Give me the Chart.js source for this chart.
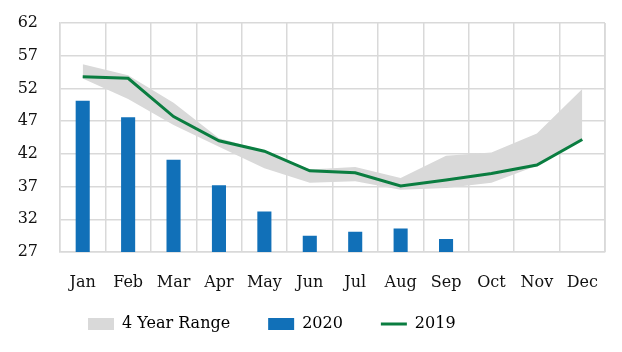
<!DOCTYPE html>
<html>
<head>
<meta charset="utf-8">
<script src="https://cdn.jsdelivr.net/npm/chart.js@4"></script>
<style>
html,body{margin:0;padding:0;background:#fff;}
#wrap{width:622px;height:352px;position:relative;}
</style>
</head>
<body>
<div id="wrap"><canvas id="c" width="622" height="352"></canvas></div>
<script>
const months = ['Jan','Feb','Mar','Apr','May','Jun','Jul','Aug','Sep','Oct','Nov','Dec'];
const rangeHigh = [55.7, 54.0, 49.8, 44.4, 42.5, 39.6, 40.0, 38.3, 41.7, 42.2, 45.1, 51.9];
const rangeLow  = [53.5, 50.4, 46.4, 43.1, 39.8, 37.6, 37.8, 36.5, 36.8, 37.6, 40.2, 44.2];
const values2020 = [50.1, 47.6, 41.1, 37.2, 33.2, 29.5, 30.1, 30.6, 29.0, null, null, null];
const values2019 = [53.8, 53.55, 47.7, 44.0, 42.4, 39.4, 39.1, 37.1, 38.0, 39.0, 40.3, 44.2];
const yTicks = [27, 32, 37, 42, 47, 52, 57, 62];

const FONT = "'DejaVu Serif', serif";
const TEXT = '#111';
const GRAY = '#D9D9D9', BLUE = '#1170B8', GREEN = '#0A7D40';

new Chart(document.getElementById('c'), {
  type: 'bar',
  data: {
    labels: months,
    datasets: [
      { type: 'line', label: '4 Year Range', data: rangeHigh, borderWidth: 0, pointRadius: 0,
        backgroundColor: GRAY, borderColor: GRAY, fill: '+1', order: 3, tension: 0 },
      { type: 'line', label: '_low', data: rangeLow, borderWidth: 0, pointRadius: 0,
        backgroundColor: GRAY, borderColor: GRAY, fill: false, order: 3, tension: 0 },
      { type: 'bar', label: '2020', data: values2020, backgroundColor: BLUE,
        barPercentage: 0.31, categoryPercentage: 1, order: 2 },
      { type: 'line', label: '2019', data: values2019, borderColor: GREEN, backgroundColor: GREEN,
        borderWidth: 3, pointRadius: 0, fill: false, order: 1, tension: 0 }
    ]
  },
  options: {
    responsive: false,
    animation: false,
    layout: { padding: { left: 16, right: 17, top: 23, bottom: 2 } },
    plugins: {
      tooltip: { enabled: false },
      legend: {
        position: 'bottom',
        align: 'start',
        maxHeight: 58,
        labels: {
          font: { family: FONT, size: 16 },
          color: TEXT,
          usePointStyle: true,
          pointStyleWidth: 26,
          boxHeight: 12,
          padding: 38,
          generateLabels: (chart) => {
            const ds = chart.data.datasets;
            return [
              { text: ds[0].label, fillStyle: GRAY, strokeStyle: GRAY, lineWidth: 0, pointStyle: 'rect', datasetIndex: 0, hidden: false },
              { text: ds[2].label, fillStyle: BLUE, strokeStyle: BLUE, lineWidth: 0, pointStyle: 'rect', datasetIndex: 2, hidden: false },
              { text: ds[3].label, fillStyle: GREEN, strokeStyle: GREEN, lineWidth: 3, pointStyle: 'line', datasetIndex: 3, hidden: false }
            ];
          }
        }
      }
    },
    scales: {
      x: {
        afterFit: (s) => { s.height = 40; },
        grid: { color: GRAY, lineWidth: 1.5, drawTicks: false, offset: true },
        border: { color: GRAY, width: 1.5 },
        ticks: { font: { family: FONT, size: 16 }, color: TEXT, padding: 21, maxRotation: 0, autoSkip: false }
      },
      y: {
        min: 27, max: 62,
        afterFit: (s) => { s.width = 44; s.paddingTop = 0; s.paddingBottom = 0; },
        afterBuildTicks: (axis) => { axis.ticks = yTicks.map(v => ({ value: v })); },
        grid: { color: GRAY, lineWidth: 1.5, drawTicks: false },
        border: { color: GRAY, width: 1.5 },
        ticks: { font: { family: FONT, size: 16 }, color: TEXT, padding: 22 }
      }
    }
  },
  plugins: [{
    id: 'legendPlace',
    afterLayout(chart) {
      const lg = chart.legend;
      if (!lg) return;
      const dy = -14;
      lg.top += dy; lg.bottom += dy;
      const w = lg.width;
      lg.left = 50; lg.right = 50 + w;
    }
  }, {
    id: 'rightBorder',
    afterDraw(chart) {
      const a = chart.chartArea, ctx = chart.ctx;
      ctx.save();
      ctx.strokeStyle = GRAY; ctx.lineWidth = 1.5;
      ctx.beginPath(); ctx.moveTo(a.right, a.top); ctx.lineTo(a.right, a.bottom); ctx.stroke();
      ctx.restore();
    }
  }]
});
</script>
</body>
</html>
